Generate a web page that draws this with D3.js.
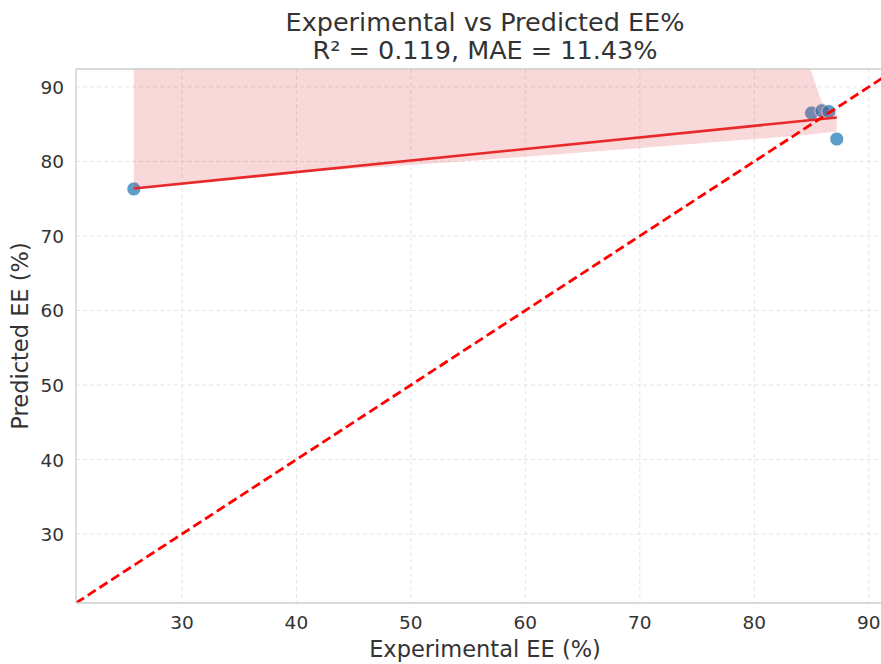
<!DOCTYPE html>
<html><head><meta charset="utf-8">
<script src="https://cdn.jsdelivr.net/npm/d3@7"></script>
<style>body{margin:0;background:#fff;} svg{display:block;font-family:"DejaVu Sans",sans-serif;}</style>
</head><body>
<svg id="c" width="881" height="664"></svg>
<script>
// Data
const expEE  = [25.8, 85.0, 85.9, 86.5, 87.2];
const predEE = [76.3, 86.5, 86.8, 86.7, 83.0];
const ciX     = [25.8, 40.0, 53.5, 70.9, 80.0, 84.9, 85.9, 87.2];
const ciUpper = [170, 140, 125, 108, 98, 92.4, 87.9, 86.5];
const ciLower = [76.3, 78.5, 79.9, 81.9, 83.0, 83.6, 83.8, 84.0];
const xTicks = [30, 40, 50, 60, 70, 80, 90];
const yTicks = [30, 40, 50, 60, 70, 80, 90];
const titleLines = ["Experimental vs Predicted EE%", "R\u00b2 = 0.119, MAE = 11.43%"];
const xLabel = "Experimental EE (%)";
const yLabel = "Predicted EE (%)";
const axMin = 20.75, axMaxX = 92.2, axMaxY = 92.4;

const svg = d3.select("#c");
const L = 76, R = 894, T = 69, B = 603;
const x = d3.scaleLinear().domain([axMin, axMaxX]).range([L, R]);
const y = d3.scaleLinear().domain([axMin, axMaxY]).range([B, T]);

svg.append("defs").append("clipPath").attr("id","clip")
  .append("rect").attr("x",L).attr("y",T).attr("width",R-L).attr("height",B-T);

// grid
const g = svg.append("g");
g.selectAll(".gx").data(xTicks).join("line")
  .attr("x1",d=>x(d)).attr("x2",d=>x(d)).attr("y1",T).attr("y2",B)
  .attr("stroke","#e4e4e4").attr("stroke-width",1).attr("stroke-dasharray","4,3");
g.selectAll(".gy").data(yTicks).join("line")
  .attr("y1",d=>y(d)).attr("y2",d=>y(d)).attr("x1",L).attr("x2",R)
  .attr("stroke","#e4e4e4").attr("stroke-width",1).attr("stroke-dasharray","4,3");

const plot = svg.append("g").attr("clip-path","url(#clip)");

// scatter
plot.selectAll("circle").data(expEE).join("circle")
  .attr("cx",d=>x(d)).attr("cy",(d,i)=>y(predEE[i])).attr("r",7)
  .attr("fill","#1f77b4").attr("fill-opacity",0.72)
  .attr("stroke","#fff").attr("stroke-width",0.8);

// CI band
const area = d3.area().x(d=>x(d[0])).y0(d=>y(d[2])).y1(d=>y(d[1]));
plot.append("path").datum(ciX.map((v,i)=>[v,ciUpper[i],ciLower[i]]))
  .attr("d",area).attr("fill","#dc2830").attr("fill-opacity",0.18);

// regression fit from the points
const mx = d3.mean(expEE), my = d3.mean(predEE);
const slope = d3.sum(expEE.map((v,i)=>(v-mx)*(predEE[i]-my))) / d3.sum(expEE.map(v=>(v-mx)*(v-mx)));
const icpt = my - slope*mx;
const xr = d3.extent(expEE);
plot.append("line")
  .attr("x1",x(xr[0])).attr("y1",y(icpt+slope*xr[0]))
  .attr("x2",x(xr[1])).attr("y2",y(icpt+slope*xr[1]))
  .attr("stroke","#e8282a").attr("stroke-width",2.6);

// identity line
plot.append("line")
  .attr("x1",x(axMin)).attr("y1",y(axMin)).attr("x2",x(axMaxY)).attr("y2",y(axMaxY))
  .attr("stroke","#ff0000").attr("stroke-width",2.8).attr("stroke-dasharray","9.5,4.5");

// spines
svg.append("line").attr("x1",L).attr("x2",L).attr("y1",T).attr("y2",B).attr("stroke","#cccccc").attr("stroke-width",1.3);
svg.append("line").attr("x1",L).attr("x2",R).attr("y1",B).attr("y2",B).attr("stroke","#cccccc").attr("stroke-width",1.3);
svg.append("line").attr("x1",L).attr("x2",R).attr("y1",T).attr("y2",T).attr("stroke","#cccccc").attr("stroke-width",1.3);

// tick labels
svg.selectAll(".xt").data(xTicks).join("text")
  .attr("x",d=>x(d)).attr("y",629).attr("text-anchor","middle")
  .attr("font-size",18.5).attr("fill","#333").text(d=>d);
svg.selectAll(".yt").data(yTicks).join("text")
  .attr("x",64).attr("y",d=>y(d)+7).attr("text-anchor","end")
  .attr("font-size",18.5).attr("fill","#333").text(d=>d);

// axis labels
svg.append("text").attr("x",(L+R)/2).attr("y",657).attr("text-anchor","middle")
  .attr("font-size",22.5).attr("fill","#333").text(xLabel);
svg.append("text").attr("transform",`translate(28,${(T+B)/2}) rotate(-90)`).attr("text-anchor","middle")
  .attr("font-size",22.5).attr("fill","#333").text(yLabel);

// title
svg.selectAll(".tt").data(titleLines).join("text")
  .attr("x",(L+R)/2).attr("y",(d,i)=>31+i*27.5).attr("text-anchor","middle")
  .attr("font-size",25.5).attr("fill","#333").text(d=>d);
</script>
</body></html>
